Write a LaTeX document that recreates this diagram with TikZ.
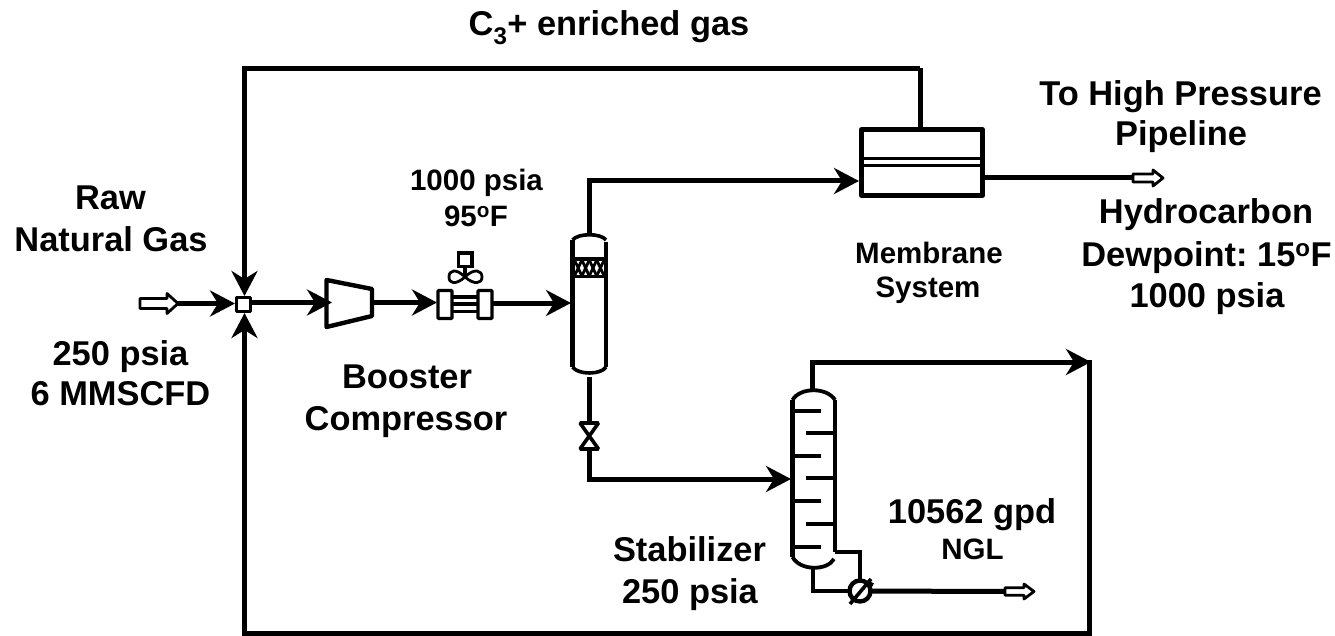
\documentclass[tikz,border=0pt]{standalone}
\usepackage{fontspec}
\setmainfont{Liberation Sans}
\usetikzlibrary{arrows.meta}
\tikzset{
  x=1pt,y=-1pt,
  pipe/.style={line width=5pt,line join=miter},
  flow/.style={pipe,-{Stealth[length=25pt,width=26pt,inset=8pt]}},
  equip/.style={line width=4.4pt,line join=round,fill=white},
  thin equip/.style={line width=3.4pt,line join=round,fill=white},
  label/.style={font=\fontsize{34.4}{34.4}\bfseries\selectfont,anchor=base,inner sep=0pt},
  mid label/.style={font=\fontsize{29.5}{29.5}\bfseries\selectfont,anchor=base,inner sep=0pt},
  tray/.style={line width=4pt},
  boxnode/.style={draw,equip,inner sep=0pt,outer sep=0pt,minimum width=#1},
}
\newcommand{\openarrow}[5]{% tip (#1,#2), total length #3, head length #4, head half height #5
  \draw[line width=2.8pt,fill=white,line join=round] (#1-#3,#2-#5*0.5) -- (#1-#4,#2-#5*0.5) -- (#1-#4,#2-#5) -- (#1,#2) -- (#1-#4,#2+#5) -- (#1-#4,#2+#5*0.5) -- (#1-#3,#2+#5*0.5) -- cycle;}
\begin{document}
\frenchspacing
\begin{tikzpicture}
\useasboundingbox (0,0) rectangle (1335,636);
% named points
\coordinate (feedout) at (176,303.5);
\coordinate (mix) at (243.5,304.5);
\coordinate (mixL) at (235,303.5);
\coordinate (mixT) at (244.5,296);
\coordinate (mixB) at (244.5,313);
\coordinate (recyTL) at (244.5,68.5);
\coordinate (recyTR) at (920,68.5);
\coordinate (recyBL) at (244.5,633.5);
\coordinate (recyBR) at (1089,633.5);
\coordinate (recyBT) at (1091,362);
\coordinate (recyCorner) at (1089,362);
\coordinate (ovhd) at (812,362);
\coordinate (stabtop) at (812,392);
\coordinate (sepup) at (589.5,181);
\coordinate (septop) at (589.5,236);
\coordinate (sepbot) at (589.5,377);
\coordinate (valvetop) at (589.5,423);
\coordinate (valvebot) at (589.5,449);
\coordinate (feedturn) at (589.5,479);
\coordinate (stabfeed) at (791,479);
\coordinate (reb) at (860,591);
\coordinate (rebtop) at (860,552);
\coordinate (stabside) at (835,552);
\coordinate (stabbot) at (813,566);
\coordinate (rebleft) at (813,591);
\coordinate (memin) at (859,181);
\coordinate (memtop) at (920,129);
\coordinate (memout) at (983,178);
\coordinate (prodtip) at (1135,178);
\coordinate (ngltip) at (1006,591.5);
\coordinate (compin) at (332,302.5);
\coordinate (compout) at (372,302.5);
\coordinate (boostin) at (437,302.5);
\coordinate (boostout) at (491,303);
\coordinate (sepin) at (571,303);
% recycle lines
\draw[pipe] (recyTR) -- (memtop);
\draw[flow] (recyTR) -- (recyTL) -- (mixT);
\draw[flow] (ovhd |- stabtop) -- (ovhd) -- (recyBT);
\draw[pipe,line cap=rect] (recyCorner) -- (recyBR) -- (recyBL);
\draw[flow] (recyBR) -- (recyBL) -- (mixB);
% main lines
\draw[flow] (feedout) -- (mixL);
\draw[flow] (boostout) -- (sepin);
\draw[flow] (septop) -- (sepup) -- (memin);
\draw[pipe] (sepbot) -- (valvetop);
\draw[flow] (valvebot) -- (feedturn) -- (stabfeed);
\draw[pipe] (memout) -- (prodtip);
\draw[pipe,line width=3.8pt] (stabside) -- (rebtop) -- (reb);
\draw[pipe,line width=3.8pt] (stabbot) -- (rebleft) -- (reb);
\draw[pipe] (reb) -- (ngltip);
% compressor
\draw[equip] (326.5,280) -- (372,289) -- (372,316) -- (326.5,327) -- cycle;
% mixer
\draw[flow] ([xshift=6pt]mix |- compin) -- (compin);
\draw[flow] (compout) -- (boostin);
\node[boxnode=14pt,minimum height=14pt,thin equip,draw] (mixbox) at (mix) {};
% open arrows
\openarrow{178}{303.5}{38}{11}{10}
\openarrow{1163}{178}{30}{10}{8}
\openarrow{1034}{591.5}{29}{10}{7.5}
% booster valve
\draw[line width=3.4pt] (452,297) -- (478,297) (452,304) -- (478,304) (452,311.5) -- (478,311.5);
\draw[line width=3.4pt,fill=white,rounded corners=1pt] (438,290.5) rectangle (452,318.5);
\draw[line width=3.4pt,fill=white,rounded corners=1pt] (478,290.5) rectangle (492,318.5);
\draw[line width=3.2pt,fill=white] (458.5,253) rectangle (472,266.5);
\draw[line width=3.2pt] (465,266.5) -- (465,277);
\draw[line width=2.8pt,fill=white,line join=round] (465,277) .. controls (456,268) and (449,270) .. (449,277) .. controls (449,284) and (456,285) .. (465,277) .. controls (474,268) and (482,270) .. (482,277) .. controls (482,284) and (474,285) .. (465,277) -- cycle;
% separator
\fill[white] (572.5,241) rectangle (605.5,367);
\draw[line width=4.4pt] (572.5,240) -- (572.5,367) (606,242) -- (606,367);
\draw[line width=3.6pt] (572.5,240) .. controls (578,233) and (601,233) .. (606,240);
\draw[line width=3.6pt] (572.5,367) .. controls (578,375) and (601,375) .. (606,367);
\draw[line width=3.6pt] (572.5,259) -- (606,259) (572.5,276.5) -- (606,276.5);
\foreach \i in {0,1,2,3}{
  \draw[line width=2.8pt] (574.5+\i*7.4,260) -- (574.5+\i*7.4+7.4,276) (574.5+\i*7.4+7.4,260) -- (574.5+\i*7.4,276);
}
% letdown valve
\draw[line width=3.6pt,line join=bevel,fill=white] (580,423) -- (598.5,423) -- (580,449) -- (598.5,449) -- cycle;
% stabilizer
\draw[line width=4.4pt] (792.5,400) -- (792.5,557) (835,400) -- (835,552);
\draw[line width=3.8pt] (792.5,400) .. controls (800,387) and (827,387) .. (835,400);
\draw[line width=3.8pt] (792.5,557) .. controls (800,571) and (827,571) .. (834,559);
\foreach \y in {411,456,501,547} \draw[tray] (793,\y) -- (821,\y);
\foreach \y in {433,478,524} \draw[tray] (806,\y) -- (835,\y);
% reboiler
\draw[line width=4.4pt,fill=white] (reb) circle (10.5pt);
\draw[line width=3.6pt] (850,604) -- (871,579);
\draw[line width=3.6pt] (867,582) -- (873,585);
% membrane
\draw[equip] (861.5,129.5) rectangle (982.5,195.5);
\draw[line width=3.4pt] (861,158.5) -- (983,158.5) (861,165.5) -- (983,165.5);
% labels
\node[label] (t1) at (609,36) {C\textsubscript{3}+ enriched gas};
\node[label] (t2) at (1180.5,106) {To High Pressure};
\node[label] (t3) at (1181,146) {Pipeline};
\node[label] (t4) at (1206,224) {Hydrocarbon};
\node[label] (t5) at (1206.5,266) {Dewpoint: 15\textsuperscript{o}F};
\node[label] (t6) at (1207,307) {1000 psia};
\node[mid label] (t7) at (929,263) {Membrane};
\node[mid label] (t8) at (928,298) {System};
\node[mid label] (t9) at (476.5,191) {1000 psia};
\node[mid label] (t10) at (476,227) {95\textsuperscript{o}F};
\node[label] (t11) at (110.5,210) {Raw};
\node[label] (t12) at (111,252) {Natural Gas};
\node[label] (t13) at (120.5,365) {250 psia};
\node[label] (t14) at (120.5,405) {6 MMSCFD};
\node[label] (t15) at (407,388) {Booster};
\node[label] (t16) at (406,430) {Compressor};
\node[label] (t17) at (689.5,561) {Stabilizer};
\node[label] (t18) at (690,603) {250 psia};
\node[label] (t19) at (972,523) {10562 gpd};
\node[mid label] (t20) at (972.5,559) {NGL};
\end{tikzpicture}
\end{document}
